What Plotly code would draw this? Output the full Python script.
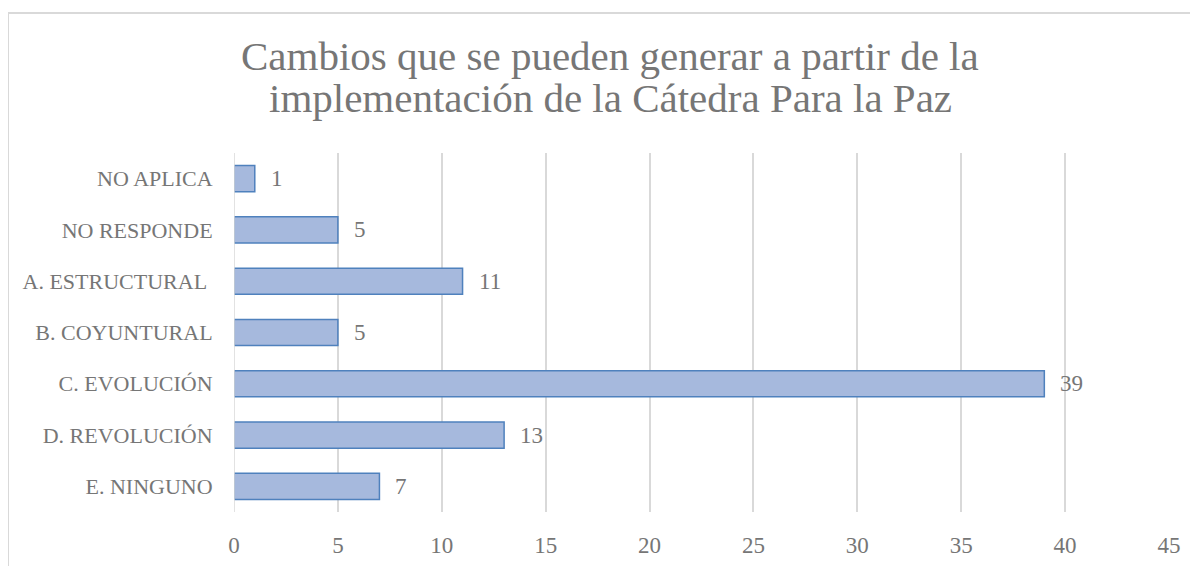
import plotly.graph_objects as go

TITLE_LINES = ["Cambios que se pueden generar a partir de la",
               "implementación de la Cátedra Para la Paz"]
CATEGORIES = ["NO APLICA", "NO RESPONDE", "A. ESTRUCTURAL\u00a0", "B. COYUNTURAL",
              "C. EVOLUCIÓN", "D. REVOLUCIÓN", "E. NINGUNO"]
VALUES = [1, 5, 11, 5, 39, 13, 7]
X_TICKS = [0, 5, 10, 15, 20, 25, 30, 35, 40, 45]

GRAY = "#767676"
GRID = "#d9d9d9"
FONT = "Liberation Serif, Times New Roman, serif"

# the page body has an 8px margin, so the figure starts at (8, 8)
W, H = 1190, 558
L, R, T, B = 226, 29, 145, 54

fig = go.Figure()
fig.add_trace(go.Bar(
    x=VALUES, y=CATEGORIES, orientation="h",
    marker=dict(color="#a6b9dd", line=dict(color="#4f81bd", width=1.5)),
    width=0.51,
    hoverinfo="x+y",
))

# value labels a bit right of the bar ends
for cat, val in zip(CATEGORIES, VALUES):
    fig.add_annotation(x=val, y=cat, text=str(val), showarrow=False,
                       xanchor="left", xshift=14,
                       font=dict(size=23, color=GRAY, family=FONT))

pw, ph = W - L - R, H - T - B

# two-line title, drawn as separate lines for tighter spacing
for line, ypx in zip(TITLE_LINES, [48, 90]):
    fig.add_annotation(text=line, xref="paper", yref="paper",
                       x=(602 - L) / pw, y=(H - B - ypx) / ph,
                       xanchor="center", yanchor="middle", showarrow=False,
                       font=dict(size=41, color=GRAY, family=FONT))

# chart box border (left and top edges only are visible)
x0 = (0 - L) / pw
y0 = (H - B - 5) / ph
fig.add_shape(type="line", xref="paper", yref="paper", x0=x0, x1=x0, y0=y0, y1=-(B + 5) / ph,
              line=dict(color=GRID, width=2))
fig.add_shape(type="line", xref="paper", yref="paper", x0=x0, x1=(W - L + 5) / pw, y0=y0, y1=y0,
              line=dict(color=GRID, width=2))

fig.update_layout(
    width=W, height=H,
    plot_bgcolor="white", paper_bgcolor="white",
    margin=dict(l=L, r=R, t=T, b=B, autoexpand=False),
    showlegend=False,
    font=dict(family=FONT, color=GRAY, size=22),
    xaxis=dict(range=[0, 45], tickvals=X_TICKS, showgrid=True, gridcolor=GRID, gridwidth=1.5,
               zeroline=False, showline=False, ticks="outside", ticklen=12, tickcolor="rgba(0,0,0,0)",
               tickfont=dict(size=23, color=GRAY), fixedrange=True),
    yaxis=dict(autorange="reversed", showgrid=False, showline=False, zeroline=False,
               ticks="outside", ticklen=16, tickcolor="rgba(0,0,0,0)",
               tickfont=dict(size=22, color=GRAY), fixedrange=True),
)
fig.add_vline(x=0, line=dict(color=GRID, width=1.5))

fig.write_html("out.html")
